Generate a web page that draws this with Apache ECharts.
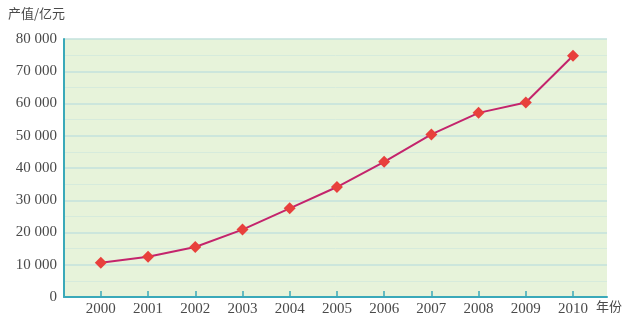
<!DOCTYPE html>
<html>
<head>
<meta charset="utf-8">
<script src="https://cdn.jsdelivr.net/npm/echarts@6/dist/echarts.min.js"></script>
<style>
  html, body { margin: 0; padding: 0; background: #fff; }
  #main { width: 626px; height: 320px; }
</style>
</head>
<body>
<div id="main"></div>
<script>
// 年份和产值（亿元）
var years = [2000, 2001, 2002, 2003, 2004, 2005, 2006, 2007, 2008, 2009, 2010];
var values = [10600, 12500, 15500, 20900, 27500, 34100, 41900, 50400, 57100, 60300, 74800];

var points = [];
for (var i = 0; i < years.length; i++) {
  points.push([years[i], values[i]]);
}

var axisColor = '#3aa9b9';
var textColor = '#4a4a4a';
var serif = '"Liberation Serif", "DejaVu Serif", serif';

var chart = echarts.init(document.getElementById('main'));
chart.setOption({
  animation: false,
  grid: {
    left: 64, right: 19, top: 39, bottom: 23,
    show: true,
    backgroundColor: '#e7f3da',
    borderWidth: 0
  },
  xAxis: {
    type: 'value',
    min: 1999.22,
    max: 2010.72,
    axisLine: { lineStyle: { color: axisColor, width: 2 } },
    axisTick: {
      show: true, inside: true, length: 6,
      customValues: years,
      lineStyle: { color: axisColor, width: 1.5 }
    },
    axisLabel: {
      customValues: years,
      margin: 5,
      color: textColor,
      fontFamily: serif,
      fontSize: 15,
      formatter: function (v) { return String(v); }
    },
    splitLine: { show: false }
  },
  yAxis: {
    type: 'value',
    min: 0,
    max: 80000,
    interval: 10000,
    axisLine: { show: true, lineStyle: { color: axisColor, width: 2 } },
    axisTick: { show: false },
    axisLabel: {
      margin: 7,
      color: textColor,
      fontFamily: serif,
      fontSize: 15,
      formatter: function (v) {
        return String(v).replace(/\B(?=(\d{3})+(?!\d))/g, ' ');
      }
    },
    splitLine: { show: true, lineStyle: { color: '#c3e2dc', width: 1.5 } },
    minorTick: { show: false, splitNumber: 2 },
    minorSplitLine: { show: true, lineStyle: { color: '#d6ebdc', width: 1 } }
  },
  graphic: [
    {
      type: 'text', left: 8, top: 7,
      style: { text: '产值/亿元', fill: textColor, font: '13px "Noto Sans CJK SC"' }
    },
    {
      type: 'text', left: 596, top: 300,
      style: { text: '年份', fill: textColor, font: '13px "Noto Sans CJK SC"' }
    }
  ],
  series: [{
    type: 'line',
    data: points,
    symbol: 'diamond',
    symbolSize: 12,
    lineStyle: { color: '#c4246c', width: 2 },
    itemStyle: { color: '#e8403c' }
  }]
});
</script>
</body>
</html>
